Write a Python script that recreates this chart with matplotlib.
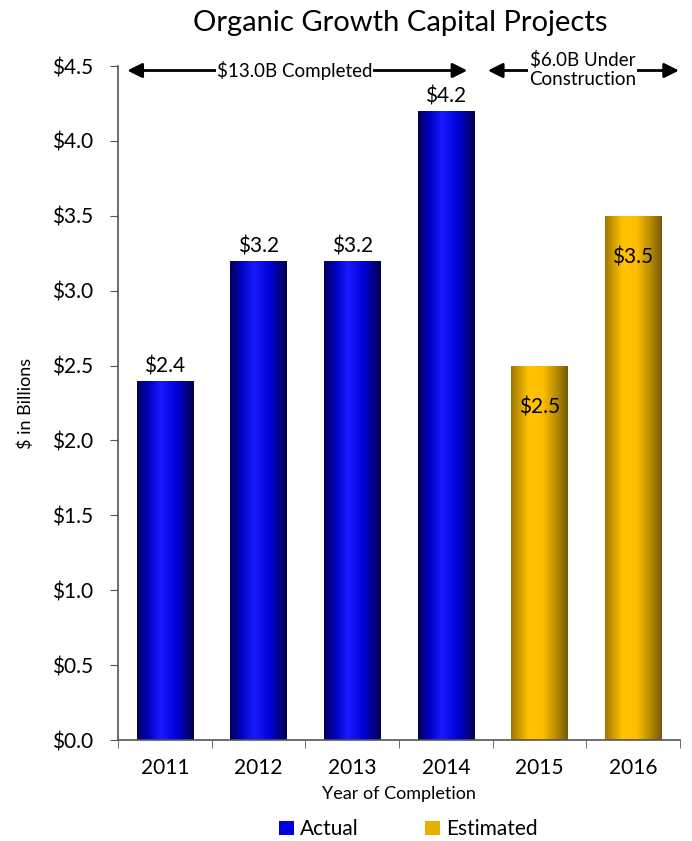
import numpy as np
import matplotlib.pyplot as plt
from matplotlib.colors import LinearSegmentedColormap
from matplotlib.patches import Patch

years = ['2011', '2012', '2013', '2014', '2015', '2016']
values = [2.4, 3.2, 3.2, 4.2, 2.5, 3.5]
kinds = ['Actual', 'Actual', 'Actual', 'Actual', 'Estimated', 'Estimated']
yticks = [0.0, 0.5, 1.0, 1.5, 2.0, 2.5, 3.0, 3.5, 4.0, 4.5]

plt.rcParams['font.family'] = ['Lato', 'DejaVu Sans']

# horizontal shading so the bars look like cylinders
blue_cmap = LinearSegmentedColormap.from_list('blue_cyl', [
    (0.0, (0.0, 0.0, 0.35)), (0.2, (0.0, 0.0, 0.75)), (0.42, (0.1, 0.1, 1.0)),
    (0.7, (0.0, 0.0, 0.85)), (1.0, (0.0, 0.0, 0.3))])
gold_cmap = LinearSegmentedColormap.from_list('gold_cyl', [
    (0.0, (0.62, 0.47, 0.0)), (0.3, (1.0, 0.76, 0.0)), (0.55, (1.0, 0.75, 0.0)),
    (0.8, (0.72, 0.55, 0.0)), (1.0, (0.45, 0.35, 0.05))])
cmaps = {'Actual': blue_cmap, 'Estimated': gold_cmap}

fig = plt.figure(figsize=(6.92, 8.41), dpi=100)
ax = fig.add_axes([0.1705, 0.12, 0.812, 0.8015])

x = np.arange(len(years))
bars = ax.bar(x, values, width=0.6, color='none', edgecolor='none')
grad = np.linspace(0, 1, 256).reshape(1, -1)
for b, kind in zip(bars, kinds):
    x0, w, h = b.get_x(), b.get_width(), b.get_height()
    im = ax.imshow(grad, cmap=cmaps[kind], aspect='auto',
                   extent=[x0, x0 + w, 0, h], zorder=2)
    im.set_clip_path(b)

ax.set_xlim(-0.5, len(years) - 0.5)
ax.set_ylim(0, 4.5)

# value labels: above the actual bars, just inside the estimated ones
for xi, v, kind in zip(x, values, kinds):
    if kind == 'Actual':
        ax.text(xi, v + 0.03, '${:.1f}'.format(v), ha='center', va='bottom', fontsize=15)
    else:
        ax.text(xi, v - 0.28, '${:.1f}'.format(v), ha='center', va='center', fontsize=15)

ax.set_yticks(yticks)
ax.set_yticklabels(['${:.1f}'.format(t) for t in yticks], fontsize=15)
ax.set_xticks(x)
ax.set_xticklabels(years, fontsize=15)
ax.set_xticks(np.arange(-0.5, len(years)), minor=True)
ax.tick_params(axis='x', which='major', length=0, pad=13)
ax.tick_params(axis='x', which='minor', length=6, color='#555555', direction='out')
ax.tick_params(axis='y', length=6, color='#555555', direction='out', pad=12)

for s in ['top', 'right']:
    ax.spines[s].set_visible(False)
for s in ['left', 'bottom']:
    ax.spines[s].set_color('#555555')
    ax.spines[s].set_linewidth(1.2)

ax.set_xlabel('Year of Completion', fontsize=13, labelpad=6)
ax.set_ylabel('$ in Billions', fontsize=13, labelpad=13)
fig.text(0.578, 0.973, 'Organic Growth Capital Projects', ha='center', va='center', fontsize=21)

# period arrows along the top
arrow = dict(arrowstyle='<|-|>', lw=2, color='black', mutation_scale=22)
ax.annotate('', xy=(-0.43, 4.47), xytext=(3.26, 4.47), arrowprops=arrow, annotation_clip=False)
ax.text(1.39, 4.47, '$13.0B Completed', ha='center', va='center', fontsize=13.5,
        bbox=dict(facecolor='white', edgecolor='none', pad=0.5), zorder=5)
ax.annotate('', xy=(3.42, 4.47), xytext=(5.52, 4.47), arrowprops=arrow, annotation_clip=False)
ax.text(4.46, 4.475, '$6.0B Under\nConstruction', ha='center', va='center', fontsize=13.5,
        linespacing=1.15, bbox=dict(facecolor='white', edgecolor='none', pad=0.5), zorder=5)

handles = [Patch(facecolor='#0000e0', edgecolor='none'), Patch(facecolor='#e8ae00', edgecolor='none')]
fig.legend(handles, ['Actual', 'Estimated'], loc='center', bbox_to_anchor=(0.59, 0.014),
           ncol=2, frameon=False, fontsize=15, handlelength=0.7, handleheight=0.7,
           handletextpad=0.3, columnspacing=3.2)

fig.savefig('out.png', dpi=100)
